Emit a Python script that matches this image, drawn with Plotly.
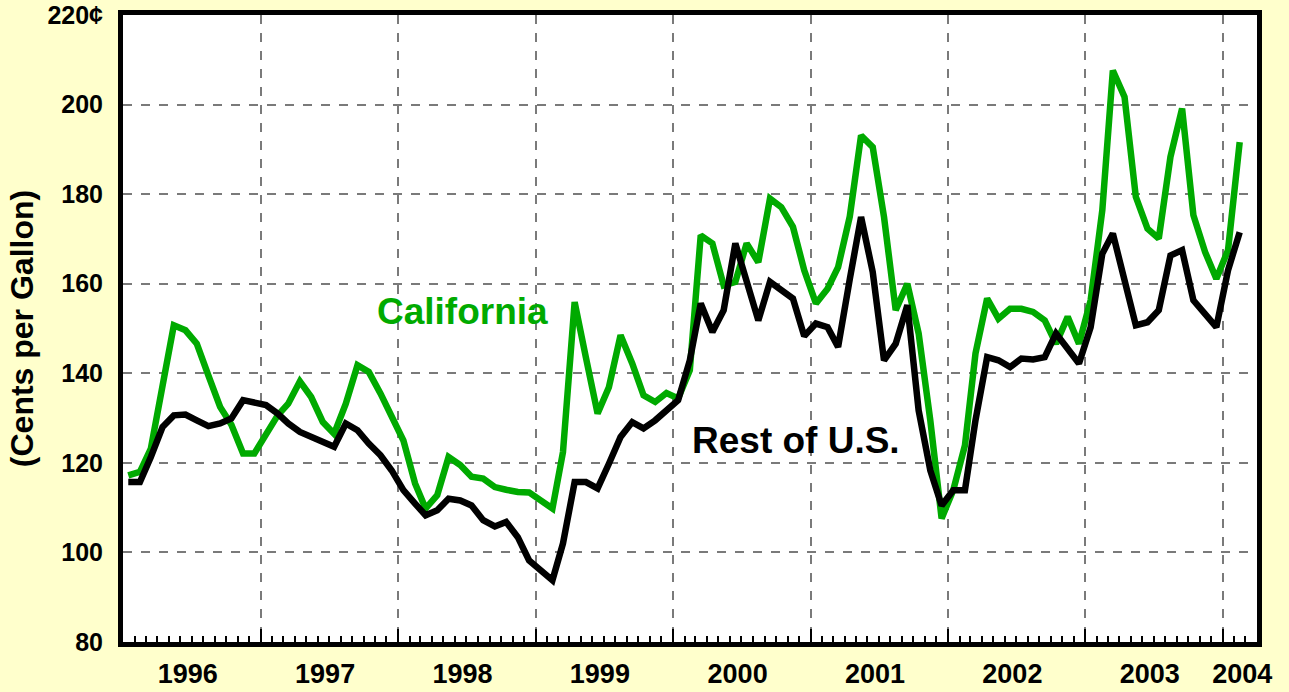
import plotly.graph_objects as go

# Monthly average prices (cents per gallon), Jan 1996 - Feb 2004
months = [f"{1996 + i // 12}-{i % 12 + 1:02d}-15" for i in range(98)]

california = [117.2, 118.0, 123.2, 137.8, 150.7, 149.6, 146.6, 139.5, 132.5, 128.5, 122.1, 122.1,
              126.2, 130.6, 133.2, 138.2, 134.7, 129.1, 126.5, 133.2, 141.8, 140.3, 135.5, 130.2,
              125.0, 115.4, 109.8, 112.8, 121.3, 119.5, 116.9, 116.5, 114.6, 114.0, 113.5, 113.4,
              111.4, 109.8, 122.4, 155.9, 143.5, 131.0, 136.9, 148.5, 142.2, 135.1, 133.6, 135.6,
              134.4, 140.7, 170.8, 169.0, 159.6, 160.4, 169.0, 164.8, 179.0, 177.1, 172.7, 163.0,
              155.6, 158.9, 163.7, 175.0, 193.1, 190.5, 174.9, 154.1, 160.0, 148.9, 129.5, 107.6,
              113.9, 123.9, 144.4, 156.7, 152.2, 154.4, 154.4, 153.7, 151.8, 146.6, 152.6, 146.6,
              156.3, 176.4, 207.6, 201.7, 179.4, 172.3, 170.1, 188.3, 199.1, 175.3, 167.1, 161.1,
              167.5, 191.6]

rest_of_us = [115.7, 115.7, 121.3, 128.0, 130.6, 130.8, 129.5, 128.2, 128.8, 129.9, 134.0, 133.6,
              132.9, 131.0, 128.8, 126.9, 125.8, 124.7, 123.6, 128.8, 127.3, 124.3, 121.7, 118.3,
              113.9, 110.9, 108.3, 109.4, 112.0, 111.6, 110.5, 107.2, 105.8, 106.8, 103.4, 98.2,
              95.8, 93.8, 102.0, 115.7, 115.7, 114.3, 119.8, 125.8, 129.1, 127.7, 129.5, 131.7,
              134.0, 142.9, 155.6, 149.2, 154.1, 169.0, 160.8, 151.8, 160.4, 158.5, 156.7, 148.3,
              151.1, 150.3, 145.9, 161.0, 174.9, 162.6, 142.9, 146.6, 155.2, 131.7, 118.3, 110.5,
              113.9, 113.9, 129.5, 143.6, 142.9, 141.4, 143.3, 143.1, 143.6, 148.9, 145.5, 142.2,
              150.3, 166.7, 171.2, 160.8, 150.7, 151.4, 154.1, 166.3, 167.5, 156.3, 153.3, 150.3,
              163.0, 171.5]

year_starts = [f"{y}-01-01" for y in range(1996, 2005)]
year_label_pos = [f"{y}-06-21" for y in range(1996, 2004)] + ["2004-02-22"]
year_labels = [str(y) for y in range(1996, 2005)]
y_ticks = [80, 100, 120, 140, 160, 180, 200, 220]
y_ticktext = ["80", "100", "120", "140", "160", "180", "200", "220¢"]
x_range = ["1996-01-01", "2004-04-01"]

FONT = "Liberation Sans, Arial, sans-serif"
GREEN = "#00AA00"

fig = go.Figure()
fig.add_trace(go.Scatter(x=months, y=california, mode="lines", name="California",
                         line=dict(color=GREEN, width=6.5), xaxis="x", yaxis="y",
                         hoverinfo="skip"))
fig.add_trace(go.Scatter(x=months, y=rest_of_us, mode="lines", name="Rest of U.S.",
                         line=dict(color="black", width=6.5), xaxis="x2", yaxis="y",
                         hoverinfo="skip"))

fig.update_layout(
    width=1289, height=692,
    margin=dict(l=123, r=32, t=15, b=50, autoexpand=False),
    paper_bgcolor="#FFFFCC",
    plot_bgcolor="white",
    showlegend=False,
    font=dict(family=FONT, color="black"),
    xaxis=dict(
        type="date", range=x_range, automargin=False,
        tickmode="array", tickvals=year_starts, ticktext=[""] * len(year_starts),
        ticks="inside", ticklen=13, tickwidth=2, tickcolor="black",
        showgrid=True, gridcolor="#7a7a7a", griddash="dash", gridwidth=1.5,
        showline=True, linecolor="black", linewidth=5, mirror=True,
        zeroline=False,
        minor=dict(tickmode="linear", tick0="1996-01-01", dtick="M1",
                   ticks="inside", ticklen=6, tickwidth=1.5, tickcolor="black",
                   showgrid=False),
    ),
    xaxis2=dict(
        type="date", range=x_range, overlaying="x", anchor="y", side="bottom",
        automargin=False,
        tickmode="array", tickvals=year_label_pos, ticktext=year_labels,
        ticks="", showgrid=False, showline=False, zeroline=False,
        tickfont=dict(family=FONT, size=27, weight="bold", color="black"),
        ticklabelstandoff=13,
    ),
    yaxis=dict(
        range=[80, 220], tickmode="array", tickvals=y_ticks, ticktext=y_ticktext,
        automargin=False,
        ticks="", showgrid=True, gridcolor="#7a7a7a", griddash="dash", gridwidth=1.5,
        showline=True, linecolor="black", linewidth=5, mirror=True, zeroline=False,
        tickfont=dict(family=FONT, size=25, weight="bold", color="black"),
        ticklabelstandoff=10,
        title=dict(text="(Cents per Gallon)", standoff=6,
                   font=dict(family=FONT, size=32, weight="bold", color="black")),
    ),
    annotations=[
        dict(x="1998-06-20", y=153.8, xref="x", yref="y", text="California",
             showarrow=False, font=dict(family=FONT, size=37, weight="bold", color=GREEN)),
        dict(x="2000-11-22", y=125.0, xref="x", yref="y", text="Rest of U.S.",
             showarrow=False, font=dict(family=FONT, size=37, weight="bold", color="black")),
    ],
)

fig.write_html("out.html", config={"displayModeBar": False},
               post_script="document.body.style.margin='0';")
